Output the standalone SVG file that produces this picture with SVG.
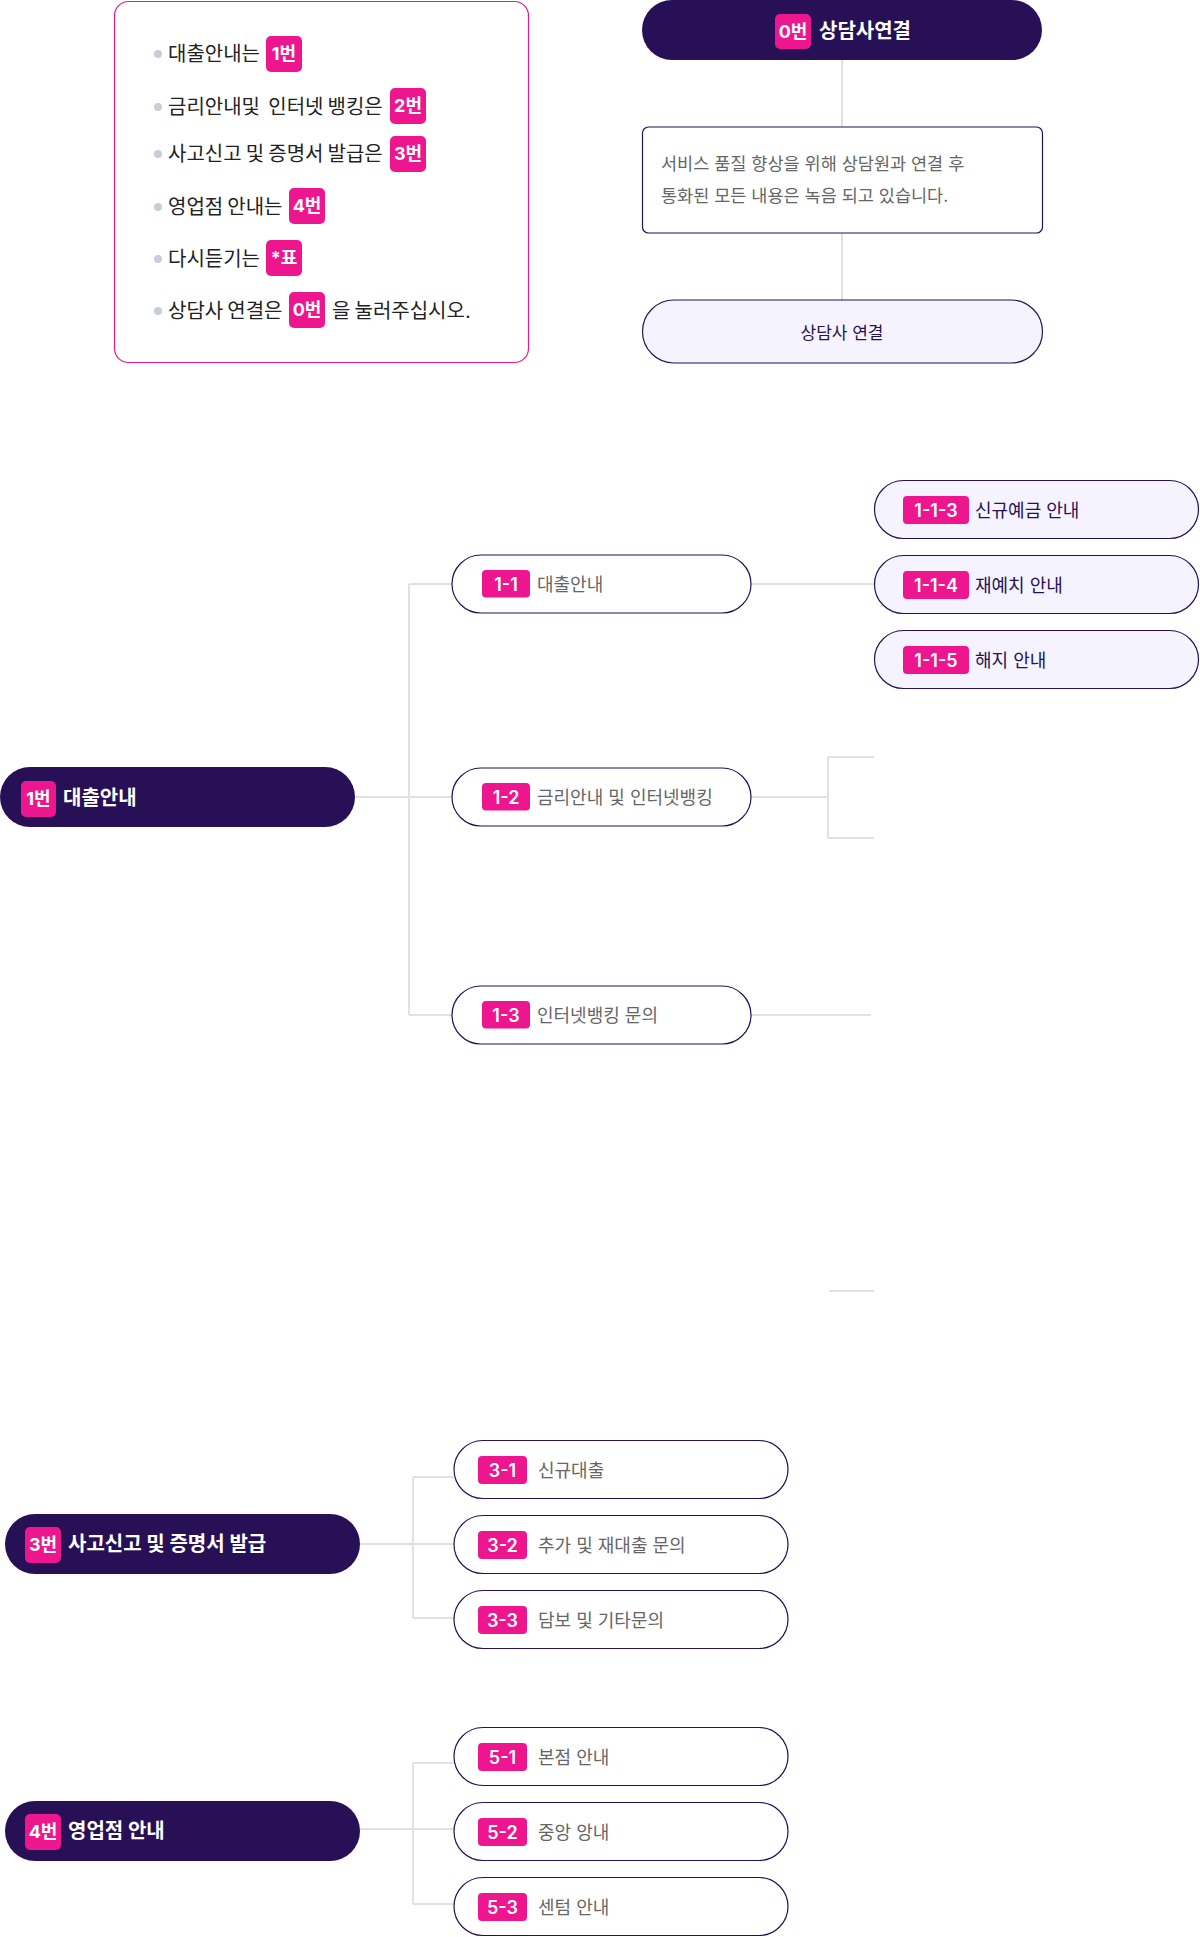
<svg xmlns="http://www.w3.org/2000/svg" width="1200" height="1937" viewBox="0 0 1200 1937">
<style>
text{font-family:Inter,"Noto Sans CJK KR",sans-serif}
.dark{fill:#271055}
.pink{fill:#ee168f}
.child{fill:#fff;stroke:#271055;stroke-width:1.2}
.sub{fill:#f5f3fe;stroke:#271055;stroke-width:1.2}
.conn{stroke:#e1e1e1;stroke-width:2;fill:none}
.bt{fill:#fff;font-weight:600;font-size:18px;text-anchor:middle}
.bt18{fill:#fff;font-weight:700;font-size:18px;text-anchor:middle}
.ct{fill:#666;font-size:18px}
.nt{fill:#666;font-size:17.5px}
.st{fill:#271055;font-size:18px}
.dt{fill:#fff;font-weight:700;font-size:20px}
.lt{fill:#222;font-size:20px;word-spacing:-1.5px}
.bul{fill:#c8ced9}
</style>
<rect width="1200" height="1937" fill="#fff"/>

<g id="connectors" class="conn">
<path d="M842 60V127M842 233V300"/>
<path d="M355 797H452M409 584V1015M409 584H452M409 1015H452"/>
<path d="M751 584H874M751 797H828M828 757V838M828 757H874M828 838H874M751 1015H871M829 1291H874"/>
<path d="M360 1544H454M413 1477V1618M413 1477H454M413 1618H454"/>
<path d="M360 1829H454M413 1763V1904M413 1763H454M413 1904H454"/>
</g>

<g id="menu-list">
<rect x="114.5" y="1.5" width="414" height="361" rx="14" fill="#fff" stroke="#ee168f" stroke-width="1.2"/>
<circle class="bul" cx="158" cy="54" r="4"/>
<text class="lt" x="168" y="61">대출안내는</text>
<rect class="pink" x="266" y="36" width="36" height="36" rx="5"/>
<text class="bt18" x="284" y="60">1번</text>
<circle class="bul" cx="158" cy="107" r="4"/>
<text class="lt" x="168" y="114" xml:space="preserve">금리안내및  인터넷 뱅킹은</text>
<rect class="pink" x="390" y="88" width="36" height="36" rx="5"/>
<text class="bt18" x="408" y="112">2번</text>
<circle class="bul" cx="158" cy="154" r="4"/>
<text class="lt" x="168" y="161">사고신고 및 증명서 발급은</text>
<rect class="pink" x="390" y="136" width="36" height="36" rx="5"/>
<text class="bt18" x="408" y="160">3번</text>
<circle class="bul" cx="158" cy="207" r="4"/>
<text class="lt" x="168" y="214">영업점 안내는</text>
<rect class="pink" x="289" y="188" width="36" height="36" rx="5"/>
<text class="bt18" x="307" y="212">4번</text>
<circle class="bul" cx="158" cy="259" r="4"/>
<text class="lt" x="168" y="266">다시듣기는</text>
<rect class="pink" x="266" y="240" width="36" height="36" rx="5"/>
<text class="bt18" x="284" y="264">*표</text>
<circle class="bul" cx="158" cy="311" r="4"/>
<text class="lt" x="168" y="318">상담사 연결은</text>
<rect class="pink" x="289" y="292" width="36" height="36" rx="5"/>
<text class="bt18" x="307" y="316">0번</text>
<text class="lt" x="332" y="318">을 눌러주십시오.</text>
</g>

<g id="node-0">
<rect class="dark" x="642" y="0" width="400" height="60" rx="30"/>
<rect class="pink" x="775" y="14" width="36" height="35" rx="5"/>
<text class="bt18" x="793" y="38">0번</text>
<text class="dt" x="819" y="38">상담사연결</text>
</g>
<g id="node-0-notice">
<rect x="642.5" y="127" width="400" height="106" rx="6" fill="#fff" stroke="#271055" stroke-width="1.2"/>
<text class="nt" x="661" y="170">서비스 품질 향상을 위해 상담원과 연결 후</text>
<text class="nt" x="661" y="202">통화된 모든 내용은 녹음 되고 있습니다.</text>
</g>
<g id="node-0-connect">
<rect class="sub" x="642.5" y="300" width="400" height="63" rx="31.5"/>
<text class="st" x="842" y="339" text-anchor="middle" style="font-size:17px">상담사 연결</text>
</g>

<g id="node-1">
<rect class="dark" x="0" y="767" width="355" height="60" rx="30"/>
<rect class="pink" x="21" y="781" width="35" height="36" rx="5"/>
<text class="bt18" x="38.5" y="805">1번</text>
<text class="dt" x="63" y="805">대출안내</text>
</g>
<g id="node-1-1">
<rect class="child" x="452" y="555" width="299" height="58" rx="29"/>
<rect class="pink" x="482" y="570" width="48" height="27.5" rx="4"/>
<text class="bt" x="506" y="590.5">1-1</text>
<text class="ct" x="537" y="591">대출안내</text>
</g>
<g id="node-1-2">
<rect class="child" x="452" y="768" width="299" height="58" rx="29"/>
<rect class="pink" x="482" y="783" width="48" height="27.5" rx="4"/>
<text class="bt" x="506" y="803.5">1-2</text>
<text class="ct" x="537" y="804">금리안내 및 인터넷뱅킹</text>
</g>
<g id="node-1-3">
<rect class="child" x="452" y="986" width="299" height="58" rx="29"/>
<rect class="pink" x="482" y="1001" width="48" height="27.5" rx="4"/>
<text class="bt" x="506" y="1021.5">1-3</text>
<text class="ct" x="537" y="1022">인터넷뱅킹 문의</text>
</g>
<g id="node-1-1-3">
<rect class="sub" x="874.5" y="480.5" width="324" height="58" rx="29"/>
<rect class="pink" x="903" y="496" width="66" height="28" rx="4"/>
<text class="bt" x="936" y="516.5">1-1-3</text>
<text class="st" x="975" y="517">신규예금 안내</text>
</g>
<g id="node-1-1-4">
<rect class="sub" x="874.5" y="555.5" width="324" height="58" rx="29"/>
<rect class="pink" x="903" y="571" width="66" height="28" rx="4"/>
<text class="bt" x="936" y="591.5">1-1-4</text>
<text class="st" x="975" y="592">재예치 안내</text>
</g>
<g id="node-1-1-5">
<rect class="sub" x="874.5" y="630.5" width="324" height="58" rx="29"/>
<rect class="pink" x="903" y="646" width="66" height="28" rx="4"/>
<text class="bt" x="936" y="666.5">1-1-5</text>
<text class="st" x="975" y="667">해지 안내</text>
</g>

<g id="node-3">
<rect class="dark" x="5" y="1514" width="355" height="60" rx="30"/>
<rect class="pink" x="25" y="1527" width="36" height="36" rx="5"/>
<text class="bt18" x="43" y="1551">3번</text>
<text class="dt" x="68" y="1551">사고신고 및 증명서 발급</text>
</g>
<g id="node-3-1">
<rect class="child" x="454" y="1440.5" width="334" height="58" rx="29"/>
<rect class="pink" x="478" y="1456" width="49" height="28" rx="4"/>
<text class="bt" x="502.5" y="1476.5">3-1</text>
<text class="ct" x="538" y="1477">신규대출</text>
</g>
<g id="node-3-2">
<rect class="child" x="454" y="1515.5" width="334" height="58" rx="29"/>
<rect class="pink" x="478" y="1531" width="49" height="28" rx="4"/>
<text class="bt" x="502.5" y="1551.5">3-2</text>
<text class="ct" x="538" y="1552">추가 및 재대출 문의</text>
</g>
<g id="node-3-3">
<rect class="child" x="454" y="1590.5" width="334" height="58" rx="29"/>
<rect class="pink" x="478" y="1606" width="49" height="28" rx="4"/>
<text class="bt" x="502.5" y="1626.5">3-3</text>
<text class="ct" x="538" y="1627">담보 및 기타문의</text>
</g>

<g id="node-4">
<rect class="dark" x="5" y="1801" width="355" height="60" rx="30"/>
<rect class="pink" x="25" y="1814" width="36" height="36" rx="5"/>
<text class="bt18" x="43" y="1838">4번</text>
<text class="dt" x="68" y="1838">영업점 안내</text>
</g>
<g id="node-5-1">
<rect class="child" x="454" y="1727.5" width="334" height="58" rx="29"/>
<rect class="pink" x="478" y="1743" width="49" height="28" rx="4"/>
<text class="bt" x="502.5" y="1763.5">5-1</text>
<text class="ct" x="538" y="1764">본점 안내</text>
</g>
<g id="node-5-2">
<rect class="child" x="454" y="1802.5" width="334" height="58" rx="29"/>
<rect class="pink" x="478" y="1818" width="49" height="28" rx="4"/>
<text class="bt" x="502.5" y="1838.5">5-2</text>
<text class="ct" x="538" y="1839">중앙 앙내</text>
</g>
<g id="node-5-3">
<rect class="child" x="454" y="1877.5" width="334" height="58" rx="29"/>
<rect class="pink" x="478" y="1893" width="49" height="28" rx="4"/>
<text class="bt" x="502.5" y="1913.5">5-3</text>
<text class="ct" x="538" y="1914">센텀 안내</text>
</g>
</svg>
